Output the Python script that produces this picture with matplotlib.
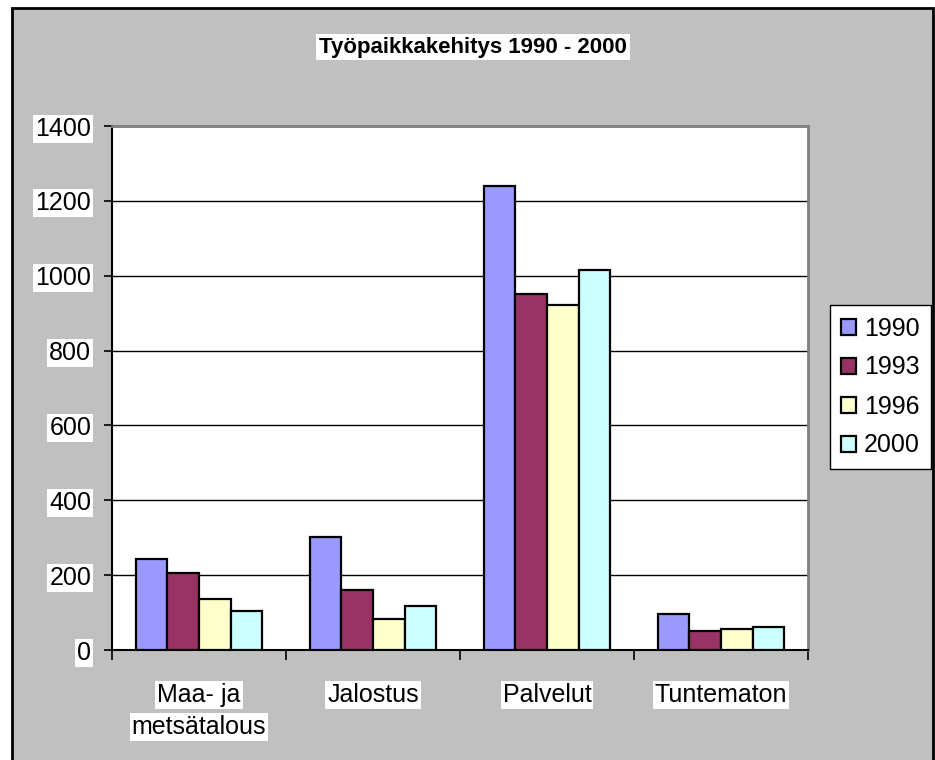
import matplotlib.pyplot as plt
from matplotlib.patches import Rectangle
import numpy as np

plt.rcParams['font.family'] = ['Liberation Sans', 'DejaVu Sans']

# data
categories = ["Maa- ja\nmetsätalous", "Jalostus", "Palvelut", "Tuntematon"]
years = ["1990", "1993", "1996", "2000"]
values_1990 = [244, 302, 1241, 95]
values_1993 = [206, 161, 950, 52]
values_1996 = [136, 82, 921, 55]
values_2000 = [104, 117, 1015, 61]
series = [values_1990, values_1993, values_1996, values_2000]
colors = ["#9999FF", "#993366", "#FFFFCC", "#CCFFFF"]
yticks = [0, 200, 400, 600, 800, 1000, 1200, 1400]

fig = plt.figure(figsize=(9.35, 7.6), dpi=100, facecolor="white")

# grey chart area with black border
fig.patches.append(Rectangle((12 / 935, -0.01), (933 - 12) / 935, 1 - 8 / 760 + 0.01,
                             transform=fig.transFigure, facecolor="#C0C0C0",
                             edgecolor="black", linewidth=2, zorder=-10))

ax = fig.add_axes([112 / 935, 1 - 650 / 760, (808 - 112) / 935, (650 - 126) / 760])
ax.set_facecolor("white")

x = np.arange(len(categories))
w = 0.182
for j, vals in enumerate(series):
    ax.bar(x + (j - 1.5) * w, vals, width=w, color=colors[j], edgecolor="black",
           linewidth=1.6, label=years[j], zorder=3)

ax.set_xlim(-0.5, len(categories) - 0.5)
ax.set_ylim(0, 1400)
ax.set_yticks(yticks)
ax.yaxis.grid(True, color="black", linewidth=1)
ax.set_axisbelow(True)

ax.spines["top"].set_color("#808080")
ax.spines["right"].set_color("#808080")
ax.spines["top"].set_linewidth(2)
ax.spines["right"].set_linewidth(2)
ax.spines["left"].set_linewidth(1.5)
ax.spines["bottom"].set_linewidth(1.5)

ax.tick_params(axis="y", direction="out", length=6, width=1.2, pad=9, labelsize=18)
for lbl in ax.get_yticklabels():
    lbl.set_bbox(dict(facecolor="white", edgecolor="none", pad=1.5))

# category ticks sit at the group boundaries
ax.set_xticks(np.arange(len(categories) + 1) - 0.5)
ax.set_xticklabels([])
ax.tick_params(axis="x", direction="out", length=7, width=1.2)

for i, cat in enumerate(categories):
    for k, line in enumerate(cat.split("\n")):
        ax.annotate(line, xy=(i, 0), xycoords=("data", "axes fraction"),
                    xytext=(0, -52 - 32 * k), textcoords="offset pixels",
                    ha="center", va="baseline", fontsize=18,
                    bbox=dict(facecolor="white", edgecolor="none", pad=1.5),
                    annotation_clip=False)

fig.text(473 / 935, 1 - 47 / 760, "Työpaikkakehitys 1990 - 2000", ha="center",
         va="center", fontsize=16, fontweight="bold",
         bbox=dict(facecolor="white", edgecolor="none", pad=2))

leg = fig.legend(loc="center left", bbox_to_anchor=(830 / 935, 1 - 387 / 760),
                 fontsize=18, frameon=True, fancybox=False, shadow=False,
                 handlelength=0.6, handleheight=0.6, handletextpad=0.3,
                 labelspacing=0.6, borderpad=0.45, borderaxespad=0)
leg.get_frame().set_edgecolor("black")
leg.get_frame().set_linewidth(1)
leg.get_frame().set_facecolor("white")
leg.get_frame().set_alpha(1)

fig.savefig("out.png", dpi=100, facecolor=fig.get_facecolor())
